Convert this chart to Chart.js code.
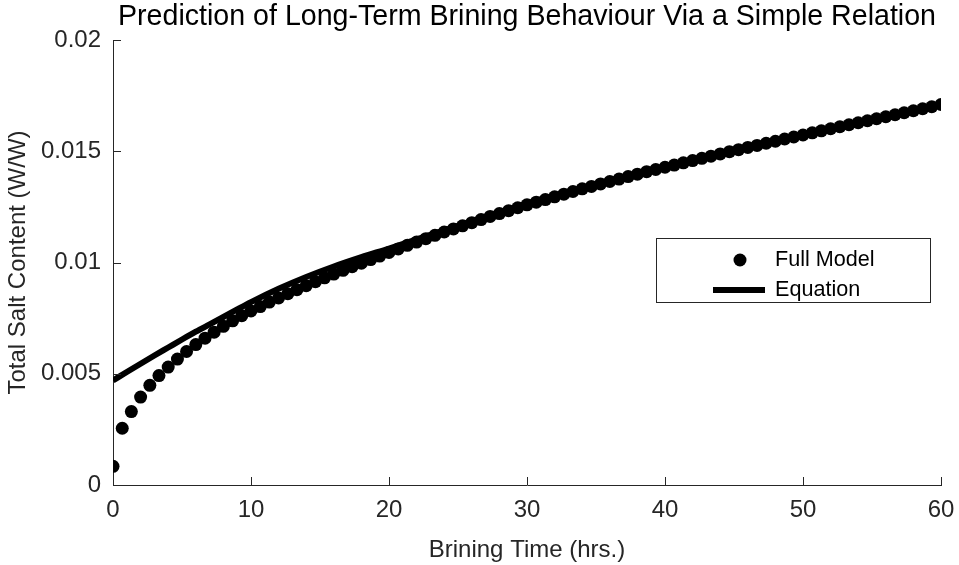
<!DOCTYPE html>
<html>
<head>
<meta charset="utf-8">
<title>Prediction of Long-Term Brining Behaviour</title>
<script src="https://cdn.jsdelivr.net/npm/chart.js@4.4.1/dist/chart.umd.min.js"></script>
<style>
  html, body { margin: 0; padding: 0; background: #ffffff; }
  #wrap { width: 959px; height: 565px; }
</style>
</head>
<body>
<div id="wrap"><canvas id="chart" width="959" height="565"></canvas></div>
<script>
// Brining time (hours) at which the full model was evaluated
const fullTime = [0,0.67,1.33,2,2.67,3.33,4,4.67,5.33,6,6.67,7.33,8,8.67,9.33,10,10.67,11.33,12,12.67,
  13.33,14,14.67,15.33,16,16.67,17.33,18,18.67,19.33,20,20.67,21.33,22,22.67,23.33,24,24.67,25.33,26,
  26.67,27.33,28,28.67,29.33,30,30.67,31.33,32,32.67,33.33,34,34.67,35.33,36,36.67,37.33,38,38.67,39.33,
  40,40.67,41.33,42,42.67,43.33,44,44.67,45.33,46,46.67,47.33,48,48.67,49.33,50,50.67,51.33,52,52.67,
  53.33,54,54.67,55.33,56,56.67,57.33,58,58.67,59.33,60];

// Total salt content (W/W) from the full model
const fullSalt = [0.00084,0.00255,0.00330,0.00395,0.00448,0.00492,0.00530,0.00566,0.00600,0.00631,
  0.00660,0.00687,0.00713,0.00738,0.00761,0.00782,0.00802,0.00822,0.00841,0.00860,
  0.00878,0.00896,0.00914,0.00931,0.00948,0.00965,0.00981,0.00997,0.01013,0.01029,
  0.01045,0.01061,0.01077,0.01092,0.01107,0.01122,0.01137,0.01151,0.01165,0.01179,
  0.01193,0.01207,0.01220,0.01233,0.01246,0.01259,0.01271,0.01283,0.01295,0.01307,
  0.01319,0.01331,0.01342,0.01353,0.01364,0.01375,0.01386,0.01397,0.01408,0.01418,
  0.01428,0.01438,0.01448,0.01458,0.01468,0.01478,0.01488,0.01498,0.01507,0.01517,
  0.01526,0.01536,0.01545,0.01555,0.01564,0.01573,0.01583,0.01592,0.01601,0.01610,
  0.01619,0.01628,0.01637,0.01646,0.01655,0.01664,0.01673,0.01682,0.01691,0.01700,
  0.01710];

// Simple relation (equation) curve
const eqTime = [0,1,2,3,4,5,6,7,8,9,10,12,14,16,18,20,25,30,35,40,45,50,55,60];
const eqSalt = [0.00470,0.00508,0.00545,0.00582,0.00618,0.00654,0.00689,0.00722,0.00755,0.00789,
  0.00822,0.00882,0.00935,0.00982,0.01024,0.01063,0.01165,0.01265,0.01352,0.01430,
  0.01503,0.01572,0.01640,0.01708];

const seriesNames = ['Full Model', 'Equation'];
const xTicks = [0,10,20,30,40,50,60];
const xTickLabels = ['0','10','20','30','40','50','60'];
const yTicks = [0,0.005,0.01,0.015,0.02];
const yTickLabels = ['0','0.005','0.01','0.015','0.02'];
const chartTitle = 'Prediction of Long-Term Brining Behaviour Via a Simple Relation';
const xTitle = 'Brining Time (hrs.)';
const yTitle = 'Total Salt Content (W/W)';

const FONT = '"Liberation Sans", Arial, Helvetica, sans-serif';
const AXIS_COLOR = '#262626';

// Title centred over the axes rather than over the whole canvas
const axesTitle = {
  id: 'axesTitle',
  afterDraw(chart) {
    const { ctx, chartArea } = chart;
    ctx.save();
    ctx.fillStyle = '#000000';
    ctx.font = '28.6px ' + FONT;
    ctx.textAlign = 'center';
    ctx.textBaseline = 'middle';
    ctx.fillText(chartTitle, (chartArea.left + chartArea.right) / 2, 17);
    ctx.restore();
  }
};

// MATLAB-style ticks pointing into the plot area
const inwardTicks = {
  id: 'inwardTicks',
  afterDraw(chart) {
    const { ctx, chartArea, scales } = chart;
    const len = 8;
    ctx.save();
    ctx.strokeStyle = AXIS_COLOR;
    ctx.lineWidth = 1;
    ctx.beginPath();
    scales.x.ticks.forEach(t => {
      const px = Math.round(scales.x.getPixelForValue(t.value)) + 0.5;
      ctx.moveTo(px, chartArea.bottom);
      ctx.lineTo(px, chartArea.bottom - len);
    });
    scales.y.ticks.forEach(t => {
      const py = Math.round(scales.y.getPixelForValue(t.value)) + 0.5;
      ctx.moveTo(chartArea.left, py);
      ctx.lineTo(chartArea.left + len, py);
    });
    ctx.stroke();
    ctx.restore();
  }
};

// Boxed legend sitting inside the axes, on the right
const legendBox = {
  id: 'legendBox',
  afterDraw(chart) {
    const { ctx } = chart;
    const x0 = 656, y0 = 238, w = 274, h = 64;
    ctx.save();
    ctx.fillStyle = '#ffffff';
    ctx.fillRect(x0, y0, w, h);
    ctx.strokeStyle = AXIS_COLOR;
    ctx.lineWidth = 1;
    ctx.strokeRect(x0 + 0.5, y0 + 0.5, w, h);

    const rowY = [y0 + 22, y0 + 52];
    // marker entry
    ctx.fillStyle = '#000000';
    ctx.beginPath();
    ctx.arc(740, rowY[0], 6.5, 0, Math.PI * 2);
    ctx.fill();
    // line entry
    ctx.strokeStyle = '#000000';
    ctx.lineWidth = 6;
    ctx.beginPath();
    ctx.moveTo(713, rowY[1]);
    ctx.lineTo(765, rowY[1]);
    ctx.stroke();

    ctx.fillStyle = '#000000';
    ctx.font = '21.6px ' + FONT;
    ctx.textBaseline = 'middle';
    ctx.textAlign = 'left';
    ctx.fillText(seriesNames[0], 775, rowY[0]);
    ctx.fillText(seriesNames[1], 775, rowY[1]);
    ctx.restore();
  }
};

const ctx = document.getElementById('chart').getContext('2d');
new Chart(ctx, {
  type: 'scatter',
  data: {
    datasets: [
      {
        label: seriesNames[0],
        data: fullTime.map((t, i) => ({ x: t, y: fullSalt[i] })),
        showLine: false,
        pointRadius: 6.5,
        pointHoverRadius: 6.5,
        pointBackgroundColor: '#000000',
        pointBorderWidth: 0,
        pointBorderColor: '#000000'
      },
      {
        label: seriesNames[1],
        data: eqTime.map((t, i) => ({ x: t, y: eqSalt[i] })),
        showLine: true,
        pointRadius: 0,
        pointHoverRadius: 0,
        borderColor: '#000000',
        borderWidth: 6,
        cubicInterpolationMode: 'monotone',
        fill: false
      }
    ]
  },
  options: {
    responsive: false,
    animation: false,
    events: [],
    layout: { padding: { top: 40, right: 18, left: 0, bottom: 0 } },
    plugins: {
      legend: { display: false },
      tooltip: { enabled: false },
      title: { display: false }
    },
    scales: {
      x: {
        type: 'linear',
        min: 0,
        max: 60,
        afterBuildTicks: s => { s.ticks = xTicks.map(v => ({ value: v })); },
        afterFit: s => { s.height = 80; s.paddingLeft = 0; s.paddingRight = 0; },
        ticks: {
          color: AXIS_COLOR,
          font: { family: FONT, size: 24 },
          padding: 11,
          maxRotation: 0,
          callback: (v, i) => xTickLabels[i]
        },
        grid: { display: true, drawOnChartArea: false, drawTicks: false },
        border: { display: true, color: AXIS_COLOR, width: 1 },
        title: {
          display: true,
          text: xTitle,
          color: AXIS_COLOR,
          font: { family: FONT, size: 24 },
          padding: { top: 0, bottom: 0 }
        }
      },
      y: {
        type: 'linear',
        min: 0,
        max: 0.02,
        afterBuildTicks: s => { s.ticks = yTicks.map(v => ({ value: v })); },
        afterFit: s => { s.width = 113; s.paddingTop = 0; s.paddingBottom = 0; },
        ticks: {
          color: AXIS_COLOR,
          font: { family: FONT, size: 24 },
          padding: 12,
          callback: (v, i) => yTickLabels[i]
        },
        grid: { display: true, drawOnChartArea: false, drawTicks: false },
        border: { display: true, color: AXIS_COLOR, width: 1 },
        title: {
          display: true,
          text: yTitle,
          color: AXIS_COLOR,
          font: { family: FONT, size: 24 },
          padding: { top: 4, bottom: 0 }
        }
      }
    }
  },
  plugins: [axesTitle, inwardTicks, legendBox]
});
</script>
</body>
</html>
